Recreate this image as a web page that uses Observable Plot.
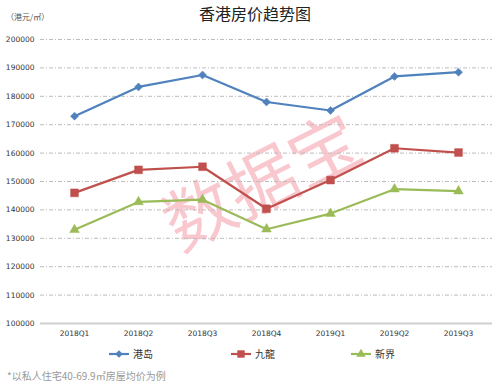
<!DOCTYPE html>
<html><head><meta charset="utf-8">
<script src="https://cdn.jsdelivr.net/npm/d3@7"></script>
<script src="https://cdn.jsdelivr.net/npm/@observablehq/plot@0.6"></script>
<style>
body{margin:0;background:#fff;}
#wrap{position:relative;width:500px;height:385px;overflow:hidden;background:#fff;font-family:"Noto Sans CJK SC","DejaVu Sans",sans-serif;}
#title{position:absolute;left:0;width:510px;top:3px;text-align:center;font-size:16px;color:#222;line-height:20px;}
#unit{position:absolute;left:6px;top:11px;font-size:8px;color:#555;}
#wm{position:absolute;left:135px;top:138px;width:250px;text-align:center;font-size:70px;color:rgba(240,110,130,0.38);transform:rotate(-27deg);line-height:80px;pointer-events:none;}
#chart{position:absolute;left:0;top:0;}
.leg{position:absolute;top:346px;font-size:10px;color:#333;display:flex;align-items:center;gap:3px;}
#foot{position:absolute;left:7px;top:368px;font-size:10px;color:#999;}
</style></head><body>
<div id="wrap">
<div id="wm">数据宝</div>
<div id="chart"></div>
<div id="title">香港房价趋势图</div>
<div id="unit">（港元/㎡）</div>
<div id="legend"></div>
<div id="foot">*以私人住宅40-69.9㎡房屋均价为例</div>
</div>
<script>
const quarters = ["2018Q1","2018Q2","2018Q3","2018Q4","2019Q1","2019Q2","2019Q3"];
const seriesNames = ["港岛","九龍","新界"];
const hkIsland = [173000,183300,187500,178000,175000,187000,188500];
const kowloon  = [146000,154100,155200,140400,150500,161700,160200];
const newTerr  = [133000,142800,143600,133200,138700,147300,146600];
const yTicks = [100000,110000,120000,130000,140000,150000,160000,170000,180000,190000,200000];

const colors = ["#4F81BD","#C0504D","#9BBB59"];
const symbols = ["diamond2","square","triangle"];
const radii = [3.6,4.4,3.6];
const values = [hkIsland, kowloon, newTerr];

const data = [];
seriesNames.forEach((s,i)=>quarters.forEach((q,j)=>data.push({series:s,quarter:q,value:values[i][j]})));

const marks = [
  Plot.gridY(yTicks.slice(1), {stroke:"#bcbcbc", strokeOpacity:1, strokeDasharray:"4,2,1,2", strokeWidth:1}),
  Plot.ruleY([100000], {stroke:"#d0d0d0", strokeWidth:2}),
  Plot.axisY(yTicks, {tickSize:0, tickPadding:6, tickFormat:d=>String(d), fontSize:7.5, fill:"#333", label:null, fontFamily:"DejaVu Sans"}),
  Plot.axisX({tickSize:0, tickPadding:7, fontSize:7.5, fill:"#333", label:null, fontFamily:"DejaVu Sans"})
];
seriesNames.forEach((s,i)=>{
  const d = data.filter(r=>r.series===s);
  marks.push(Plot.line(d,{x:"quarter",y:"value",stroke:colors[i],strokeWidth:2.2}));
  marks.push(Plot.dot(d,{x:"quarter",y:"value",fill:colors[i],stroke:colors[i],strokeWidth:0.5,symbol:()=>symbols[i],r:radii[i]}));
});

const chart = Plot.plot({
  width:500, height:345,
  marginTop:39, marginBottom:22, marginLeft:40, marginRight:8,
  style:{background:"transparent", overflow:"visible"},
  x:{type:"point", domain:quarters, padding:0.5, label:null},
  y:{domain:[100000,200000], label:null},
  symbol:{type:"identity"},
  marks
});
document.getElementById("chart").appendChild(chart);

// legend
const legLeft = [108,230,350];
const legend = document.getElementById("legend");
seriesNames.forEach((s,i)=>{
  const div = document.createElement("div");
  div.className = "leg";
  div.style.left = legLeft[i]+"px";
  const sym = d3.symbol().type([d3.symbolDiamond2,d3.symbolSquare,d3.symbolTriangle][i]).size(Math.PI*radii[i]*radii[i]*0.9)();
  div.innerHTML = `<svg width="22" height="12"><line x1="1" x2="21" y1="6" y2="6" stroke="${colors[i]}" stroke-width="2.2"/><path d="${sym}" transform="translate(11,6)" fill="${colors[i]}"/></svg><span>${s}</span>`;
  legend.appendChild(div);
});
</script>
</body></html>
